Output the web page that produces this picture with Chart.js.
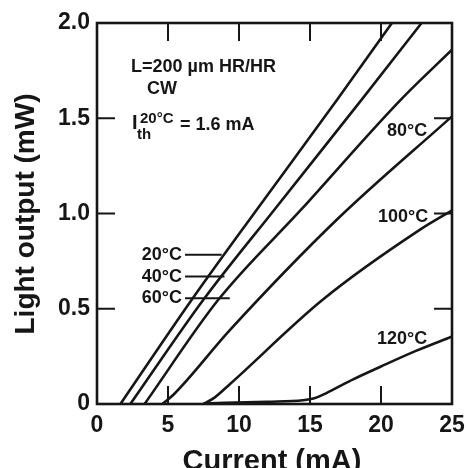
<!DOCTYPE html>
<html><head><meta charset="utf-8">
<script src="https://cdn.jsdelivr.net/npm/chart.js@4"></script>
<style>html,body{margin:0;padding:0;background:#fff;overflow:hidden}#wrap{width:466px;height:468px;position:relative}</style>
</head><body><div id="wrap"><canvas id="c" width="466" height="468"></canvas></div>
<script>
const FONT = '"Liberation Sans", Arial, Helvetica, sans-serif';
const INK = '#161616';

// Temperature series: current (mA) and light output (mW)
const seriesNames = ['20°C', '40°C', '60°C', '80°C', '100°C', '120°C'];
const current20 = [1.65, 6.67, 11.25, 16.92, 20.77];
const power20   = [0, 0.547, 1.02, 1.598, 2.0];
const current40 = [2.35, 7.49, 12.49, 18.64, 22.86];
const power40   = [0, 0.547, 1.02, 1.598, 2.0];
const current60 = [3.35, 8.54, 14.37, 21.4, 25];
const power60   = [0, 0.547, 1.02, 1.598, 1.86];
const current80 = [4.6, 5.4, 9.37, 16.88, 25];
const power80   = [0, 0.05, 0.389, 0.967, 1.51];
const current100 = [7.5, 8.3, 9.37, 15.89, 22.75, 25];
const power100   = [0, 0.035, 0.105, 0.547, 0.915, 1.016];
const current120 = [7.5, 12, 14.5, 15.3, 16, 17, 18, 20, 22.5, 25];
const power120   = [0.003, 0.012, 0.02, 0.03, 0.052, 0.09, 0.128, 0.197, 0.28, 0.354];

const xTickValues = [0, 5, 10, 15, 20, 25];
const yTickValues = [0, 0.5, 1.0, 1.5, 2.0];
const yTickLabels = ['0', '0.5', '1.0', '1.5', '2.0'];
const xTitle = 'Current (mA)';
const yTitle = 'Light output (mW)';

const currents = [current20, current40, current60, current80, current100, current120];
const powers = [power20, power40, power60, power80, power100, power120];

const datasets = seriesNames.map((name, i) => ({
  label: name,
  data: currents[i].map((x, j) => ({ x: x, y: powers[i][j] })),
  borderColor: INK,
  borderWidth: 2.6,
  pointRadius: 0,
  fill: false,
  cubicInterpolationMode: 'monotone'
}));

const decor = {
  id: 'decor',
  afterDatasetsDraw(chart) {
    const { ctx, chartArea: a, scales: { x, y } } = chart;
    ctx.save();
    ctx.strokeStyle = INK;
    ctx.fillStyle = INK;
    // frame
    ctx.lineWidth = 2.6;
    ctx.strokeRect(a.left, a.top, a.right - a.left, a.bottom - a.top);
    // inward ticks
    ctx.lineWidth = 2;
    const L = 18;
    xTickValues.forEach(v => {
      if (v === x.min || v === x.max) return;
      const px = x.getPixelForValue(v);
      ctx.beginPath();
      ctx.moveTo(px, a.bottom); ctx.lineTo(px, a.bottom - L);
      ctx.moveTo(px, a.top); ctx.lineTo(px, a.top + L);
      ctx.stroke();
    });
    yTickValues.forEach(v => {
      if (v === y.min || v === y.max) return;
      const py = y.getPixelForValue(v);
      ctx.beginPath();
      ctx.moveTo(a.left, py); ctx.lineTo(a.left + L, py);
      ctx.moveTo(a.right, py); ctx.lineTo(a.right - L, py);
      ctx.stroke();
    });
    // legend-like labels with leaders
    ctx.font = 'bold 18px ' + FONT;
    ctx.textBaseline = 'middle';
    const leaders = [
      { t: '20°C', yv: 0.783, xe: 8.78 },
      { t: '40°C', yv: 0.669, xe: 8.98 },
      { t: '60°C', yv: 0.555, xe: 9.35 }
    ];
    leaders.forEach(l => {
      const py = y.getPixelForValue(l.yv);
      ctx.textAlign = 'right';
      ctx.fillText(l.t, 182, py);
      ctx.beginPath();
      ctx.lineWidth = 2;
      ctx.moveTo(185, py);
      ctx.lineTo(x.getPixelForValue(l.xe), py);
      ctx.stroke();
    });
    ctx.textAlign = 'left';
    ctx.fillText('80°C', 387, 131);
    ctx.fillText('100°C', 378, 217);
    ctx.fillText('120°C', 377, 339);
    // info block
    ctx.textBaseline = 'alphabetic';
    ctx.fillText('L=200 µm HR/HR', 131, 72);
    ctx.textAlign = 'center';
    ctx.fillText('CW', 162, 94);
    ctx.textAlign = 'left';
    ctx.font = 'bold 20px ' + FONT;
    ctx.fillText('I', 132, 129);
    ctx.font = 'bold 15px ' + FONT;
    ctx.fillText('th', 137, 139);
    ctx.fillText('20°C', 140, 123);
    ctx.font = 'bold 18px ' + FONT;
    ctx.fillText('= 1.6 mA', 180, 130);
    // axis titles
    ctx.font = 'bold 29px ' + FONT;
    ctx.textAlign = 'center';
    ctx.fillText(xTitle, 272, 470);
    ctx.save();
    ctx.translate(34, 214);
    ctx.rotate(-Math.PI / 2);
    ctx.font = 'bold 28px ' + FONT;
    ctx.fillText(yTitle, 0, 0);
    ctx.restore();
    ctx.restore();
  }
};

new Chart(document.getElementById('c'), {
  type: 'line',
  data: { datasets },
  options: {
    responsive: false,
    animation: false,
    events: [],
    layout: { padding: { left: 0, top: 23, right: 14, bottom: 0 } },
    plugins: { legend: { display: false }, tooltip: { enabled: false } },
    scales: {
      x: {
        type: 'linear', min: 0, max: 25,
        afterFit(s) { s.height = 64; s.paddingLeft = 0; s.paddingRight = 0; },
        afterBuildTicks(s) { s.ticks = xTickValues.map(v => ({ value: v })); },
        grid: { display: false, drawTicks: false },
        border: { display: false },
        ticks: {
          padding: 8, color: INK, maxRotation: 0, autoSkip: false,
          font: { family: FONT, size: 23, weight: 'bold' },
          callback: v => String(v)
        }
      },
      y: {
        type: 'linear', min: 0, max: 2,
        afterFit(s) { s.width = 97; s.paddingTop = 0; s.paddingBottom = 0; },
        afterBuildTicks(s) { s.ticks = yTickValues.map(v => ({ value: v })); },
        grid: { display: false, drawTicks: false },
        border: { display: false },
        ticks: {
          padding: 7, color: INK,
          font: { family: FONT, size: 23, weight: 'bold' },
          callback: v => yTickLabels[yTickValues.indexOf(v)]
        }
      }
    }
  },
  plugins: [decor]
});
</script></body></html>
